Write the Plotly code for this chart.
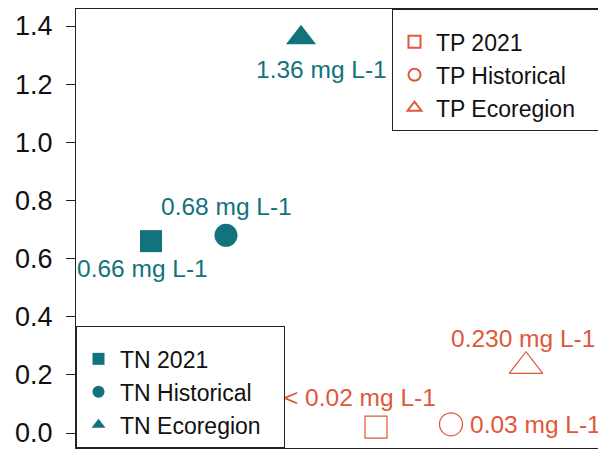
import plotly.graph_objects as go

# ---- data ----
tn_names = ["TN 2021", "TN Historical", "TN Ecoregion"]
tn_x = [1, 2, 3]
tn_y = [0.66, 0.68, 1.36]
tn_labels = ["0.66 mg L-1", "0.68 mg L-1", "1.36 mg L-1"]

tp_names = ["TP 2021", "TP Historical", "TP Ecoregion"]
tp_x = [4, 5, 6]
tp_y = [0.02, 0.03, 0.23]
tp_labels = ["< 0.02 mg L-1", "0.03 mg L-1", "0.230 mg L-1"]

y_ticks = [0.0, 0.2, 0.4, 0.6, 0.8, 1.0, 1.2, 1.4]
y_ticklabels = ["0.0", "0.2", "0.4", "0.6", "0.8", "1.0", "1.2", "1.4"]

# ---- style ----
TEAL = "#12737c"
ORANGE = "#e0583a"
FONT = "Liberation Sans, Arial, sans-serif"

tn_symbols = ["square", "circle", "triangle-up"]
tn_sizes = [22, 23, 26]
tp_symbols = ["square-open", "circle-open", "triangle-up-open"]
tp_sizes = [22, 23, 29]

# label offsets (px) relative to each point
tn_off = [(-9, -27, "center"), (0, 29, "center"), (20, -32, "center")]
tp_off = [(-16, 30, "center"), (17, 0, "left"), (-3, 28, "center")]

fig = go.Figure()

for i in range(3):
    fig.add_trace(go.Scatter(
        x=[tn_x[i]], y=[tn_y[i]], mode="markers", name=tn_names[i],
        marker=dict(symbol=tn_symbols[i], size=tn_sizes[i], color=TEAL,
                    line=dict(width=0)),
        legend="legend", hoverinfo="skip"))
for i in range(3):
    fig.add_trace(go.Scatter(
        x=[tp_x[i]], y=[tp_y[i]], mode="markers", name=tp_names[i],
        marker=dict(symbol=tp_symbols[i], size=tp_sizes[i], color=ORANGE,
                    line=dict(width=1.2, color=ORANGE)),
        legend="legend2", hoverinfo="skip"))

annotations = []
for i in range(3):
    dx, dy, anc = tn_off[i]
    annotations.append(dict(x=tn_x[i], y=tn_y[i], xref="x", yref="y",
                            text=tn_labels[i], showarrow=False,
                            xanchor=anc, yanchor="middle", xshift=dx, yshift=dy,
                            font=dict(family=FONT, size=24.5, color=TEAL)))
for i in range(3):
    dx, dy, anc = tp_off[i]
    annotations.append(dict(x=tp_x[i], y=tp_y[i], xref="x", yref="y",
                            text=tp_labels[i], showarrow=False,
                            xanchor=anc, yanchor="middle", xshift=dx, yshift=dy,
                            font=dict(family=FONT, size=24.5, color=ORANGE)))

# invisible spacer title widens/pads the legend boxes
spacer = "\u00a0" * 91

fig.update_layout(
    width=598, height=442,
    margin=dict(l=68, r=5, t=1, b=2),
    paper_bgcolor="white", plot_bgcolor="white",
    font=dict(family=FONT, color="#111111"),
    showlegend=True,
    annotations=annotations,
    legend=dict(x=0, y=0, xanchor="left", yanchor="bottom",
                bgcolor="white", bordercolor="#222222", borderwidth=1,
                font=dict(family=FONT, size=23, color="#111111"),
                itemsizing="constant", tracegroupgap=0, itemwidth=33,
                title=dict(text=spacer, font=dict(family=FONT, size=8))),
    legend2=dict(x=1, y=1, xanchor="right", yanchor="top",
                 bgcolor="white", bordercolor="#222222", borderwidth=1,
                 font=dict(family=FONT, size=23, color="#111111"),
                 itemsizing="constant", tracegroupgap=0, itemwidth=33,
                 title=dict(text=spacer, font=dict(family=FONT, size=8))),
    xaxis=dict(range=[0, 7], showticklabels=False, ticks="", showgrid=False,
               zeroline=False, showline=True, linecolor="#222222", linewidth=1,
               mirror=True, fixedrange=True),
    yaxis=dict(range=[-0.0516, 1.4585], tickvals=y_ticks, ticktext=y_ticklabels,
               ticks="outside", ticklen=9, tickcolor="#222222", tickwidth=1,
               tickfont=dict(family=FONT, size=27, color="#111111"),
               ticklabelstandoff=8,
               showgrid=False, zeroline=False, showline=True,
               linecolor="#222222", linewidth=1, mirror=True, fixedrange=True),
)

fig.write_html("out.html")
